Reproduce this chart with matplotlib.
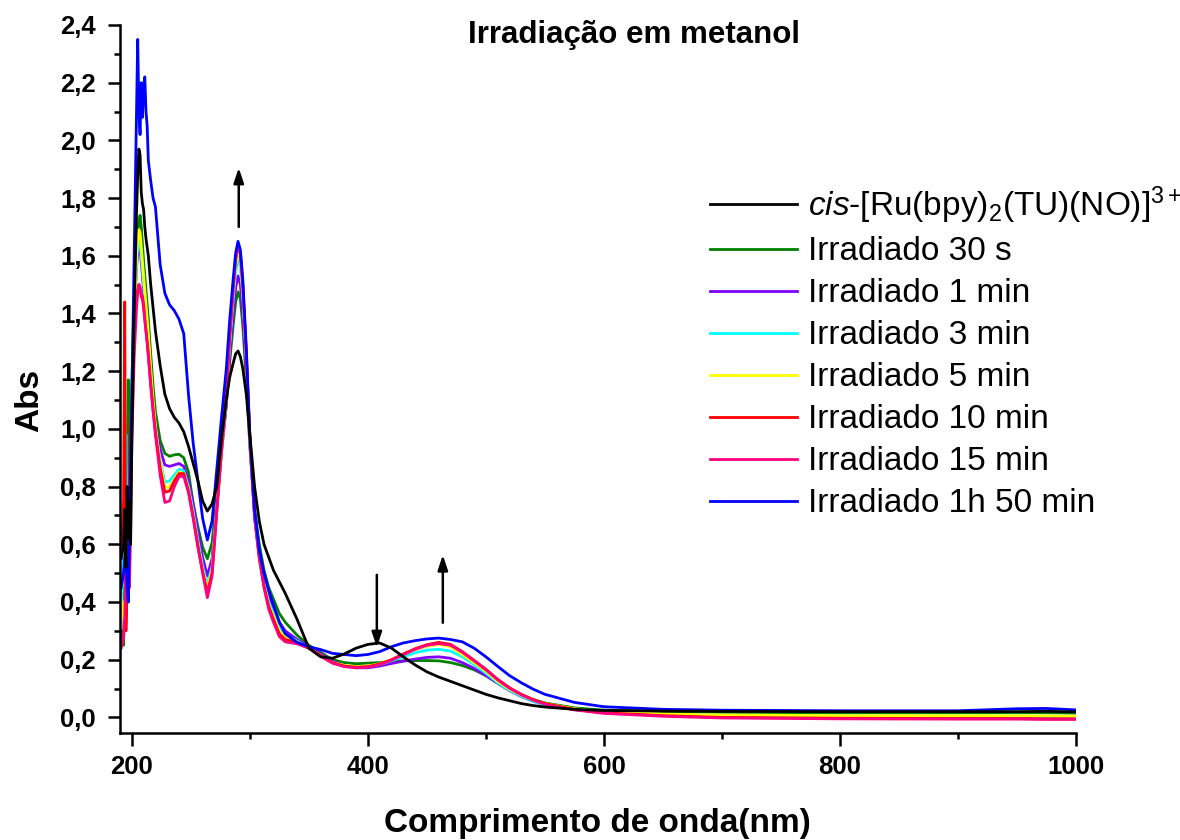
import matplotlib
matplotlib.use("Agg")
import matplotlib.pyplot as plt
from matplotlib.ticker import MultipleLocator

# Wavelength grid (nm)
wavelength = [191, 193, 194, 195, 196, 197, 198, 199, 200,
              202, 204, 205, 206, 207, 208, 209, 210, 211, 212, 213, 214,
              216, 218, 220, 224, 228, 232, 236, 240, 244, 248, 252, 256, 260, 264, 268, 272, 276, 280,
              283, 286, 288, 290, 292, 294, 297, 300,
              304, 308, 312, 316, 320, 325, 330, 340, 350,
              360, 370, 380, 390, 400, 410, 420, 430, 440, 450, 460, 470, 480, 490, 500,
              510, 520, 530, 540, 550, 575, 600, 650, 700, 800, 900, 950, 975, 1000]

# Absorbance of each spectrum
abs_cis = [0.55, 0.60, 0.72, 0.52, 0.80, 0.62, 0.75, 0.60, 0.95,
           1.40, 1.75, 1.88, 1.97, 1.95, 1.82, 1.78, 1.76, 1.70, 1.66, 1.63, 1.60,
           1.50, 1.42, 1.34, 1.22, 1.12, 1.07, 1.04, 1.02, 0.99, 0.94, 0.88, 0.82, 0.75, 0.715, 0.74, 0.80, 0.97, 1.10,
           1.18, 1.23, 1.26, 1.27, 1.25, 1.21, 1.12, 0.98,
           0.80, 0.68, 0.60, 0.555, 0.51, 0.47, 0.43, 0.34, 0.24,
           0.21, 0.205, 0.22, 0.24, 0.253, 0.258, 0.24, 0.21, 0.182, 0.158, 0.14, 0.125, 0.11, 0.095, 0.08,
           0.068, 0.058, 0.048, 0.041, 0.036, 0.028, 0.024, 0.022, 0.021, 0.02, 0.02, 0.02, 0.021, 0.019]

abs_30s = [0.30, 0.25, 0.45, 0.50, 0.80, 1.17, 0.65, 0.90, 1.15,
           1.45, 1.62, 1.68, 1.72, 1.74, 1.70, 1.64, 1.58, 1.53, 1.48, 1.43, 1.38,
           1.26, 1.15, 1.06, 0.96, 0.915, 0.905, 0.91, 0.912, 0.90, 0.85, 0.74, 0.66, 0.59, 0.55, 0.605, 0.77, 0.93, 1.08,
           1.235, 1.365, 1.44, 1.475, 1.45, 1.36, 1.17, 0.94,
           0.72, 0.60, 0.51, 0.45, 0.41, 0.36, 0.33, 0.285, 0.25,
           0.225, 0.20, 0.19, 0.186, 0.188, 0.19, 0.193, 0.196, 0.197, 0.197, 0.196, 0.19, 0.18, 0.165, 0.145,
           0.12, 0.097, 0.078, 0.062, 0.05, 0.033, 0.025, 0.02, 0.018, 0.016, 0.016, 0.017, 0.016, 0.015]

abs_1min = [0.45, 0.50, 0.55, 0.45, 0.60, 0.52, 0.55, 0.85, 1.05,
            1.40, 1.56, 1.61, 1.63, 1.62, 1.58, 1.53, 1.48, 1.43, 1.38, 1.33, 1.28,
            1.18, 1.08, 1.01, 0.93, 0.875, 0.87, 0.875, 0.88, 0.87, 0.82, 0.74, 0.645, 0.555, 0.49, 0.55, 0.74, 0.92, 1.08,
            1.26, 1.405, 1.49, 1.53, 1.50, 1.40, 1.20, 0.95,
            0.70, 0.575, 0.48, 0.42, 0.38, 0.33, 0.30, 0.27, 0.245,
            0.22, 0.195, 0.178, 0.172, 0.172, 0.178, 0.187, 0.195, 0.202, 0.208, 0.21, 0.205, 0.19, 0.17, 0.145,
            0.118, 0.093, 0.072, 0.056, 0.044, 0.027, 0.017, 0.01, 0.006, 0.004, 0.004, 0.004, 0.003, 0.003]

abs_3min = [0.40, 0.55, 0.60, 0.98, 0.60, 0.55, 0.50, 0.85, 1.05,
            1.40, 1.58, 1.63, 1.65, 1.64, 1.60, 1.55, 1.50, 1.45, 1.40, 1.35, 1.30,
            1.19, 1.08, 1.00, 0.89, 0.815, 0.82, 0.84, 0.86, 0.855, 0.80, 0.715, 0.615, 0.525, 0.458, 0.524, 0.73, 0.92, 1.10,
            1.295, 1.454, 1.545, 1.59, 1.56, 1.46, 1.24, 0.96,
            0.70, 0.565, 0.47, 0.40, 0.36, 0.31, 0.285, 0.265, 0.24,
            0.215, 0.19, 0.178, 0.173, 0.175, 0.183, 0.196, 0.21, 0.224, 0.233, 0.236, 0.23, 0.21, 0.183, 0.153,
            0.12, 0.094, 0.073, 0.056, 0.044, 0.027, 0.017, 0.01, 0.007, 0.005, 0.005, 0.005, 0.004, 0.004]

abs_5min = [0.35, 0.40, 0.30, 0.55, 0.45, 0.60, 0.45, 0.85, 1.05,
            1.40, 1.60, 1.66, 1.69, 1.68, 1.63, 1.58, 1.53, 1.48, 1.43, 1.38, 1.33,
            1.21, 1.10, 1.01, 0.88, 0.795, 0.80, 0.825, 0.85, 0.845, 0.79, 0.70, 0.60, 0.51, 0.445, 0.51, 0.72, 0.92, 1.11,
            1.31, 1.48, 1.57, 1.62, 1.585, 1.48, 1.25, 0.97,
            0.70, 0.56, 0.46, 0.39, 0.35, 0.30, 0.275, 0.262, 0.24,
            0.215, 0.19, 0.18, 0.176, 0.178, 0.186, 0.20, 0.218, 0.235, 0.247, 0.253, 0.245, 0.218, 0.19, 0.16,
            0.125, 0.098, 0.077, 0.06, 0.048, 0.03, 0.02, 0.012, 0.008, 0.006, 0.006, 0.006, 0.005, 0.004]

abs_10min = [0.60, 0.75, 1.44, 0.30, 0.45, 0.40, 0.75, 1.00, 1.10,
             1.35, 1.46, 1.48, 1.50, 1.49, 1.46, 1.45, 1.42, 1.38, 1.34, 1.30, 1.26,
             1.16, 1.07, 0.99, 0.865, 0.78, 0.785, 0.82, 0.845, 0.845, 0.785, 0.695, 0.595, 0.505, 0.432, 0.50, 0.72, 0.93, 1.12,
             1.325, 1.495, 1.59, 1.64, 1.605, 1.50, 1.26, 0.97,
             0.70, 0.555, 0.455, 0.385, 0.34, 0.29, 0.27, 0.26, 0.24,
             0.215, 0.19, 0.178, 0.174, 0.176, 0.185, 0.20, 0.22, 0.238, 0.252, 0.26, 0.253, 0.228, 0.198, 0.167,
             0.132, 0.103, 0.08, 0.062, 0.048, 0.028, 0.016, 0.006, 0.0, -0.003, -0.004, -0.004, -0.005, -0.005]

abs_15min = [0.24, 0.28, 0.35, 0.55, 0.40, 0.70, 0.45, 0.65, 0.95,
             1.25, 1.42, 1.47, 1.50, 1.49, 1.47, 1.46, 1.43, 1.38, 1.34, 1.30, 1.25,
             1.15, 1.06, 0.98, 0.84, 0.745, 0.75, 0.80, 0.835, 0.835, 0.78, 0.69, 0.59, 0.50, 0.415, 0.49, 0.71, 0.92, 1.11,
             1.32, 1.49, 1.59, 1.64, 1.605, 1.50, 1.26, 0.97,
             0.69, 0.55, 0.45, 0.375, 0.33, 0.28, 0.262, 0.255, 0.24,
             0.212, 0.188, 0.176, 0.172, 0.174, 0.183, 0.198, 0.217, 0.236, 0.25, 0.256, 0.25, 0.226, 0.196, 0.165,
             0.13, 0.101, 0.078, 0.06, 0.046, 0.026, 0.014, 0.004, -0.002, -0.005, -0.006, -0.006, -0.007, -0.007]

abs_1h50 = [0.45, 0.50, 0.55, 0.60, 0.45, 0.40, 0.60, 0.90, 1.10,
            1.60, 2.10, 2.35, 2.10, 2.02, 2.20, 2.08, 2.18, 2.22, 2.10, 2.05, 1.93,
            1.86, 1.80, 1.77, 1.57, 1.47, 1.43, 1.41, 1.38, 1.33, 1.12, 0.95, 0.82, 0.69, 0.615, 0.68, 0.86, 1.04, 1.205,
            1.38, 1.525, 1.61, 1.65, 1.62, 1.52, 1.28, 0.98,
            0.72, 0.58, 0.50, 0.44, 0.39, 0.33, 0.29, 0.26, 0.245,
            0.235, 0.222, 0.218, 0.214, 0.218, 0.228, 0.245, 0.258, 0.266, 0.272, 0.275, 0.27, 0.262, 0.24, 0.21,
            0.177, 0.145, 0.12, 0.098, 0.08, 0.052, 0.037, 0.028, 0.025, 0.023, 0.023, 0.03, 0.031, 0.026]

labels = [r"$\mathit{cis}$-[Ru(bpy)$_\mathrm{2}$(TU)(NO)]$^\mathrm{3+}$",
          "Irradiado 30 s", "Irradiado 1 min", "Irradiado 3 min", "Irradiado 5 min",
          "Irradiado 10 min", "Irradiado 15 min", "Irradiado 1h 50 min"]
colors = ["#000000", "#008000", "#8000FF", "#00FFFF", "#FFFF00", "#FF0000", "#FF0080", "#0000FF"]
series = [abs_cis, abs_30s, abs_1min, abs_3min, abs_5min, abs_10min, abs_15min, abs_1h50]

x_ticks = [200, 400, 600, 800, 1000]
y_ticks = [0.0, 0.2, 0.4, 0.6, 0.8, 1.0, 1.2, 1.4, 1.6, 1.8, 2.0, 2.2, 2.4]

plt.rcParams['font.family'] = 'Liberation Sans'
plt.rcParams['mathtext.fontset'] = 'custom'
plt.rcParams['mathtext.rm'] = 'Liberation Sans:weight=normal'
plt.rcParams['mathtext.it'] = 'Liberation Sans:style=italic:weight=normal'
plt.rcParams['mathtext.bf'] = 'Liberation Sans:weight=bold'

fig = plt.figure(figsize=(11.8, 8.4), dpi=100)
ax = fig.add_axes([0.1013, 0.1274, 0.8106, 0.8429])

for y, c, lab in zip(series, colors, labels):
    z = 3 if c == "#000000" else 2
    ax.plot(wavelength, y, color=c, lw=2.0, label=lab, zorder=z)

ax.set_xlim(189.6, 1000)
ax.set_ylim(-0.054, 2.4)

for s in ['top', 'right']:
    ax.spines[s].set_visible(False)
for s in ['left', 'bottom']:
    ax.spines[s].set_linewidth(1.8)

ax.set_xticks(x_ticks)
ax.set_xticklabels([str(v) for v in x_ticks], fontweight='bold')
ax.set_yticks(y_ticks)
ax.set_yticklabels([f"{v:.1f}".replace('.', ',') for v in y_ticks], fontweight='bold')
ax.xaxis.set_minor_locator(MultipleLocator(100))
ax.yaxis.set_minor_locator(MultipleLocator(0.1))
ax.tick_params(which='major', direction='out', length=9, width=1.8, labelsize=18.5)
ax.tick_params(which='minor', direction='out', length=4.5, width=1.8)
ax.tick_params(axis='y', which='major', pad=8)
ax.tick_params(axis='x', which='major', pad=7)

ax.set_xlabel("Comprimento de onda(nm)", fontsize=24, fontweight='bold')
ax.xaxis.set_label_coords(0.5, -0.106)
ax.set_ylabel("Abs", fontsize=24, fontweight='bold')
ax.yaxis.set_label_coords(-0.078, 0.469)

fig.text(634 / 1180, 1 - 43.3 / 840, "Irradiação em metanol", fontsize=22.5,
         fontweight='bold', ha='center', va='baseline')

# arrows showing the direction of change
arrow = dict(arrowstyle='-|>,head_length=0.6,head_width=0.2', mutation_scale=15,
             lw=1.8, color='black', shrinkA=0, shrinkB=0)
ax.annotate("", xy=(290.6, 1.905), xytext=(290.6, 1.70), arrowprops=arrow)
ax.annotate("", xy=(407.6, 0.243), xytext=(407.6, 0.494), arrowprops=arrow)
ax.annotate("", xy=(463.5, 0.563), xytext=(463.5, 0.328), arrowprops=arrow)

ax.legend(loc='upper left', bbox_to_anchor=(710 / 1180, 1 - 184 / 840),
          bbox_transform=fig.transFigure, frameon=False, borderpad=0, borderaxespad=0,
          handlelength=2.6, handletextpad=0.33, labelspacing=0.33,
          prop={'size': 24, 'weight': 'normal'})

fig.savefig("out.png", dpi=100)
